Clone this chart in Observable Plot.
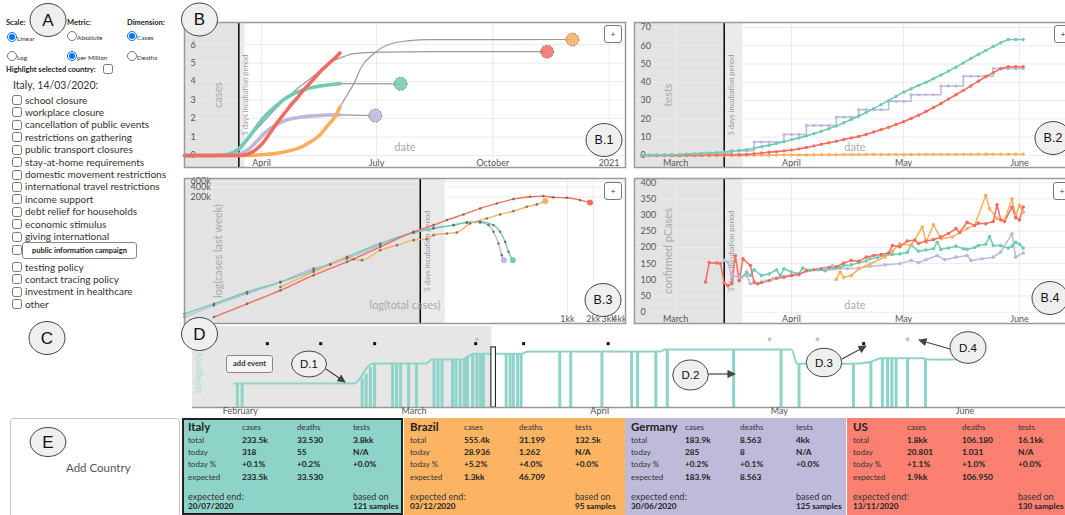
<!DOCTYPE html>
<html>
<head>
<meta charset="utf-8">
<script src="https://cdn.jsdelivr.net/npm/d3@7"></script>
<script src="https://cdn.jsdelivr.net/npm/@observablehq/plot@0.6"></script>
<style>
  html, body { margin:0; padding:0; background:#fff; }
  body { width:1065px; height:515px; overflow:hidden; position:relative; font-family: Lato, "Open Sans", "DejaVu Sans", sans-serif; color:#222; }
  .a { position:absolute; white-space:nowrap; }
  .ctlh { font-size:7.5px; font-weight:700; color:#222; line-height:9px; }
  .ctls { font-size:6.5px; color:#333; line-height:8px; }
  input.r, input.c { position:absolute; margin:0; width:10px; height:10px; }
  .pol { font-size:10px; line-height:12px; color:#333; }
  .plus { position:absolute; width:18px; height:18px; border:1px solid #777; border-radius:3px; background:#fff; font-size:8px; line-height:16px; text-align:center; color:#333; box-sizing:border-box; z-index:5; }
  .card { position:absolute; top:418px; height:97px; box-sizing:border-box; overflow:hidden; }
  .card .a { line-height:10px; }
  .hd { font-size:8px; color:#333; }
  .lb { font-size:8px; color:#333; }
  .vl { font-size:8.3px; font-weight:700; color:#222; }
  .nm { font-size:11.5px; font-weight:700; color:#222; }
  .ft { font-size:9px; color:#333; }
  .ftb { font-size:8.2px; font-weight:700; color:#222; }
  svg.plotsvg { position:absolute; overflow:visible; max-width:none; background:transparent; }
</style>
</head>
<body>
<script>
// ======================= DATA =======================
const countries = ["Italy", "Brazil", "Germany", "US"];
const selectedDate = "2020-03-14";
const incubationDays = 5;
const incubationLabel = "5 days incubation period";

// ---- B.1 : cumulative cases per million (thousands) ----
const b1Domain = ["2020-01-31", "2021-01-14"];
const b1TickDates = ["2020-04-01", "2020-07-01", "2020-10-01", "2021-01-01"];
const b1TickLabels = ["April", "July", "October", "2021"];
const b1YTicks = [0, 1, 2, 3, 4, 5, 6];

const b1ItalyDates = ["2020-01-31","2020-02-20","2020-03-01","2020-03-07","2020-03-14","2020-03-21","2020-03-28","2020-04-04","2020-04-11","2020-04-18","2020-04-25","2020-05-02","2020-05-09","2020-05-16","2020-05-23","2020-05-30","2020-06-02"];
const b1ItalyValues = [0,0,0.03,0.1,0.35,0.9,1.55,2.15,2.6,3.0,3.3,3.5,3.65,3.75,3.82,3.87,3.89];
const b1BrazilDates = ["2020-01-31","2020-03-14","2020-03-28","2020-04-04","2020-04-11","2020-04-18","2020-04-25","2020-05-02","2020-05-09","2020-05-16","2020-05-23","2020-05-30","2020-06-02"];
const b1BrazilValues = [0,0,0.02,0.05,0.1,0.17,0.29,0.44,0.7,1.04,1.6,2.2,2.63];
const b1GermanyDates = ["2020-01-31","2020-03-01","2020-03-07","2020-03-14","2020-03-21","2020-03-28","2020-04-04","2020-04-11","2020-04-18","2020-04-25","2020-05-02","2020-05-09","2020-05-16","2020-05-23","2020-05-30","2020-06-02"];
const b1GermanyValues = [0,0,0.01,0.06,0.3,0.75,1.25,1.6,1.85,2.0,2.08,2.13,2.16,2.19,2.2,2.2];
const b1UsDates = ["2020-01-31","2020-03-10","2020-03-14","2020-03-18","2020-03-21","2020-03-25","2020-03-28","2020-04-01","2020-04-05","2020-04-09","2020-04-13","2020-04-17","2020-04-21","2020-04-25","2020-04-29","2020-05-03","2020-05-07","2020-05-11","2020-05-15","2020-05-19","2020-05-23","2020-05-27","2020-05-31","2020-06-02"];
const b1UsValues = [0,0,0.01,0.03,0.07,0.2,0.35,0.6,0.95,1.35,1.75,2.1,2.45,2.8,3.1,3.45,3.75,4.05,4.35,4.65,4.9,5.15,5.4,5.55];

// projections (gray)
const projItalyDates = ["2020-06-02","2020-07-20"];
const projItalyValues = [3.89,3.88];
const projBrazilDates = ["2020-06-02","2020-06-07","2020-06-13","2020-06-19","2020-06-29","2020-07-09","2020-07-25","2020-08-13","2020-12-03"];
const projBrazilValues = [2.63,3.2,3.89,4.79,5.52,5.97,6.2,6.27,6.28];
const projGermanyDates = ["2020-06-02","2020-06-30"];
const projGermanyValues = [2.2,2.16];
const projUsDates = ["2020-03-01","2020-03-08","2020-03-14","2020-04-01","2020-04-16","2020-04-29","2020-05-13","2020-05-26","2020-06-03","2020-06-13","2020-07-05","2020-08-15","2020-11-13"];
const projUsValues = [0.05,0.15,0.45,1.72,2.8,3.6,4.34,5.06,5.3,5.52,5.6,5.62,5.62];
const endDates = ["2020-07-20","2020-12-03","2020-06-30","2020-11-13"];
const endValues = [3.88,6.28,2.16,5.62];

// ---- B.2 : tests per thousand, every 2 days from b2Start ----
const b2Domain = ["2020-02-19", "2020-06-16"];
const b2Start = "2020-02-21";
const b2StepDays = 2;
const b2Italy = [0.1,0.1,0.2,0.3,0.4,0.5,0.7,0.9,1.1,1.3,1.6,1.9,2.3,2.7,3.2,3.9,4.8,5.6,6.5,7.5,8.6,9.6,10.7,11.9,13.2,14.6,16.1,17.9,19.7,21.6,23.5,25.6,27.8,30.0,32.3,34.6,36.5,38.3,40.0,41.9,44.0,46.1,48.2,50.6,53.0,55.2,57.4,59.6,61.6,63.4,63.4,63.4];
const b2Brazil = [0,0,0,0,0,0,0,0,0,0,0,0,0,0,0.05,0.1,0.1,0.15,0.2,0.2,0.25,0.3,0.3,0.35,0.35,0.4,0.4,0.45,0.45,0.45,0.5,0.5,0.5,0.5,0.55,0.55,0.55,0.55,0.58,0.58,0.58,0.6,0.6,0.6,0.6,0.62,0.62,0.62,0.63,0.63,0.63,0.63];
const b2Germany = [0,0,0,0,0,0,0,0,1.2,1.2,1.2,1.2,2.6,2.6,2.6,7.3,7.3,7.3,7.3,11.5,11.5,11.5,16.4,16.4,16.4,16.4,21,21,21,25,25,25,25,29.6,29.6,29.6,33.2,33.2,33.2,33.2,38,38,38,43.3,43.3,43.3,43.3,47.5,47.5,47.5,47.5,47.5];
const b2US = [0,0,0,0,0,0,0.05,0.05,0.1,0.1,0.15,0.2,0.3,0.4,0.6,0.9,1.3,1.7,2.1,2.5,3.0,3.6,4.3,5.2,6.1,6.9,7.8,8.7,9.6,10.4,11.5,12.8,14.1,15.4,16.9,18.4,20.2,22.0,24.0,26.2,28.4,30.8,33.2,35.6,38.0,40.6,43.0,45.3,47.4,48.5,48.5,48.5];
const b2YTicks = [0,10,20,30,40,50,60,70];
const monthTickDates = ["2020-03-01","2020-04-01","2020-05-01","2020-06-01"];
const monthTickLabels = ["March","April","May","June"];

// ---- B.3 : log(total cases) vs log(cases last week) ----
const b3XDomain = [37, 4.7e6];
const b3YDomain = [30, 7.3e5];
const b3SelectedTotal = 19800;
const b3IncubationTotal = 38500;
const b3XTicks = [1e6, 2e6, 3e6, 4e6];
const b3XLabels = ["1kk", "2kk", "3kk", "4kk"];
const b3YTicks = [2e5, 4e5, 6e5];
const b3YLabels = ["200k", "400k", "600k"];
const b3ItalyTotal = [37,81,196,477,1157,2811,6826,16577,28200,48100,68600,97800,139400,166500,190200,207800,233500];
const b3ItalyWeek = [59,118,269,537,1220,3120,7900,17000,22500,28400,34200,35800,28400,17800,8860,4420,2470];
const b3GermanyTotal = [37,81,196,477,1157,1804,2811,6826,16577,28200,48100,68600,97800,122000,139400,159300,174000,183900];
const b3GermanyWeek = [47,106,239,537,1380,1820,2780,7000,17000,23500,28400,34200,34200,28400,17800,7900,3500,2470];
const b3BrazilTotal = [477,1157,1804,2811,3356,4189,6826,10634,16577,23600,28200,40300,52500,74900,116800,166500,237400,338600,442000,555400];
const b3BrazilWeek = [382,1090,1820,2910,2640,2470,4960,7000,9960,10700,14100,15900,17000,31900,45200,59700,75400,101900,120000,151000];
const b3UsTotal = [81,196,477,1157,2811,6826,16577,28200,40300,62700,97800,152400,237400,370000,527600,688500,982000,1400000,1827000];
const b3UsWeek = [47,118,302,868,2200,6240,17800,28400,40200,59700,90700,128600,174000,204600,214000,195400,191000,162000,138000];

// ---- B.4 : confirmed pCases ----
const b4YTicks = [0,50,100,150,200,250,300,350,400];
const b4ItalyDates = ["2020-03-18","2020-03-20","2020-03-21","2020-03-22","2020-03-24","2020-03-26","2020-03-28","2020-03-29","2020-03-30","2020-04-01","2020-04-03","2020-04-04","2020-04-06","2020-04-08","2020-04-10","2020-04-12","2020-04-14","2020-04-15","2020-04-17","2020-04-19","2020-04-21","2020-04-22","2020-04-24","2020-04-26","2020-04-28","2020-04-30","2020-05-02","2020-05-03","2020-05-05","2020-05-07","2020-05-09","2020-05-10","2020-05-11","2020-05-13","2020-05-15","2020-05-17","2020-05-18","2020-05-20","2020-05-21","2020-05-23","2020-05-24","2020-05-25","2020-05-27","2020-05-29","2020-05-30","2020-05-31","2020-06-01","2020-06-02"];
const b4ItalyValues = [98,124,113,131,113,118,131,113,134,124,119,136,129,131,128,134,138,144,146,153,158,165,168,175,178,180,185,208,188,192,196,216,194,198,204,196,194,200,206,210,234,206,206,198,204,216,210,198];
const b4UsDates = ["2020-03-09","2020-03-10","2020-03-12","2020-03-13","2020-03-14","2020-03-15","2020-03-16","2020-03-17","2020-03-18","2020-03-19","2020-03-21","2020-03-22","2020-03-23","2020-03-24","2020-03-26","2020-03-28","2020-03-30","2020-04-01","2020-04-03","2020-04-05","2020-04-07","2020-04-09","2020-04-11","2020-04-13","2020-04-15","2020-04-17","2020-04-19","2020-04-21","2020-04-23","2020-04-25","2020-04-27","2020-04-28","2020-04-30","2020-05-02","2020-05-04","2020-05-05","2020-05-07","2020-05-09","2020-05-11","2020-05-13","2020-05-15","2020-05-16","2020-05-18","2020-05-20","2020-05-21","2020-05-23","2020-05-25","2020-05-26","2020-05-27","2020-05-28","2020-05-30","2020-05-31","2020-06-01","2020-06-02"];
const b4UsValues = [93,153,152,150,90,82,88,175,97,165,144,93,88,92,98,105,108,113,116,128,131,134,138,140,152,160,157,170,175,178,183,206,202,220,222,212,220,224,232,243,258,246,278,268,275,273,280,332,285,280,325,292,285,325];
const b4GermanyDates = ["2020-03-14","2020-03-15","2020-03-16","2020-03-18","2020-03-20","2020-03-21","2020-03-23","2020-03-25","2020-03-27","2020-03-30","2020-04-03","2020-04-06","2020-04-10","2020-04-12","2020-04-13","2020-04-16","2020-04-19","2020-04-22","2020-04-26","2020-04-30","2020-05-03","2020-05-05","2020-05-07","2020-05-10","2020-05-12","2020-05-15","2020-05-18","2020-05-19","2020-05-22","2020-05-25","2020-05-27","2020-05-30","2020-05-31","2020-06-02"];
const b4GermanyValues = [160,155,113,108,113,88,88,95,103,111,119,129,136,144,134,135,136,142,146,150,160,153,162,175,162,170,175,160,165,170,186,242,170,183];
const b4BrazilDates = ["2020-04-13","2020-04-14","2020-04-15","2020-04-17","2020-04-19","2020-04-22","2020-04-26","2020-04-28","2020-04-30","2020-05-03","2020-05-06","2020-05-07","2020-05-09","2020-05-11","2020-05-14","2020-05-18","2020-05-20","2020-05-23","2020-05-24","2020-05-26","2020-05-28","2020-05-30","2020-05-31","2020-06-01","2020-06-02"];
const b4BrazilValues = [101,124,108,113,134,149,170,188,211,206,263,216,270,227,232,258,268,361,320,289,284,350,299,330,309];

// ---- D : stringency timeline (Italy) ----
const dDomain = ["2020-01-24 00:00", "2020-06-17 19:00"];
const dTickDates = ["2020-02-01","2020-03-01","2020-04-01","2020-05-01","2020-06-01"];
const dTickLabels = ["February","March","April","May","June"];
const stringencyDates = ["2020-01-31","2020-02-20","2020-02-23","2020-03-03","2020-03-04","2020-03-09","2020-03-11","2020-03-19","2020-03-20","2020-04-11","2020-04-12","2020-05-03","2020-05-04","2020-05-13","2020-05-16","2020-05-18","2020-05-25","2020-05-26","2020-06-02"];
const stringencyValues = [38.7,38.7,71,71,77.4,77.4,86.5,86.5,90.3,90.3,93.5,93.5,70.5,70.5,73,79.5,79.5,77.4,77.4];
const eventTimes = ["2020-01-31 12:00","2020-02-01 07:00","2020-02-21 08:00","2020-02-22 00:00","2020-02-22 17:00","2020-02-23 10:00","2020-02-26 10:00","2020-02-27 02:00","2020-02-27 18:00","2020-02-29 02:00","2020-03-01 10:00","2020-03-04 08:00","2020-03-05 00:00","2020-03-05 16:00","2020-03-07 10:00","2020-03-08 00:00","2020-03-08 17:00","2020-03-09 10:00","2020-03-09 22:00","2020-03-10 19:00","2020-03-11 12:00","2020-03-12 02:00","2020-03-12 14:00","2020-03-16 09:00","2020-03-17 01:00","2020-03-17 14:00","2020-03-18 07:00","2020-03-18 21:00","2020-03-25 08:00","2020-03-27 04:00","2020-04-01 09:00","2020-04-06 08:00","2020-04-07 08:00","2020-04-10 09:00","2020-04-12 07:00","2020-04-23 09:00","2020-05-01 07:00","2020-05-04 07:00","2020-05-13 09:00","2020-05-16 07:00","2020-05-18 05:00","2020-05-19 02:00","2020-05-19 19:00","2020-05-20 12:00","2020-05-22 10:00","2020-05-25 10:00"];
const eventLevels = [38.7,38.7,46,54,65,71,71,71,71,71,71,77.4,77.4,77.4,77.4,77.4,77.4,78,82,86,86.5,86.5,86.5,86.5,86.5,86.5,86.5,86.5,90.3,90.3,90.3,90.3,90.3,90.3,93.5,93.5,93.5,70.5,70.5,73,79.5,79.5,79.5,79.5,79.5,77.4];
const selectedEventTime = "2020-03-14 07:00";
const selectedEventLevel = 97;
const markerTimes = ["2020-02-05 12:00","2020-02-14 10:00","2020-02-23 10:00","2020-03-11 07:00","2020-03-19 07:00","2020-04-02 10:00","2020-05-15 02:00","2020-03-11 12:00","2020-04-29 09:00","2020-05-07 09:00","2020-05-22 10:00"];
const markerKinds = ["policy","policy","policy","policy","policy","policy","policy","note","note","note","note"];

// ---- Controls ----
const policies = ["school closure","workplace closure","cancellation of public events","restrictions on gathering","public transport closures","stay-at-home requirements","domestic movement restrictions","international travel restrictions","income support","debt relief for households","economic stimulus","giving international","public information campaign","testing policy","contact tracing policy","investment in healthcare","other"];
const hoveredPolicy = "public information campaign";

// ---- E : cards ----
const cardColumns = ["cases","deaths","tests"];
const cardRowLabels = ["total","today","today %","expected"];
const cardTotals = [["233.5k","33.530","3.8kk"],["555.4k","31.199","132.5k"],["183.9k","8.563","4kk"],["1.8kk","106.180","16.1kk"]];
const cardToday = [["318","55","N/A"],["28.936","1.262","N/A"],["285","8","N/A"],["20.801","1.031","N/A"]];
const cardTodayPct = [["+0.1%","+0.2%","+0.0%"],["+5.2%","+4.0%","+0.0%"],["+0.2%","+0.1%","+0.0%"],["+1.1%","+1.0%","+0.0%"]];
const cardExpected = [["233.5k","33.530",""],["1.3kk","46.709",""],["183.9k","8.563",""],["1.9kk","106.950",""]];
const cardEndDates = ["20/07/2020","03/12/2020","30/06/2020","13/11/2020"];
const cardSamples = [121, 95, 125, 130];

// ======================= STYLE =======================
const lineColors = ["#6fcbb3", "#fdae5c", "#bcb8dc", "#f26d60"];
const cardColors = ["#8dd3c7", "#fdb462", "#bebada", "#fb8072"];
const FONT = "Lato, 'Open Sans', sans-serif";

// ======================= HELPERS =======================
const parseDay = d3.utcParse("%Y-%m-%d");
const parseTime = d3.utcParse("%Y-%m-%d %H:%M");
const selDate = parseDay(selectedDate);
const incEnd = d3.utcDay.offset(selDate, incubationDays);
const colorScale = {domain: countries, range: lineColors};

function rowsFrom(country, dates, values) {
  return dates.map((d, i) => ({country, date: parseDay(d), value: values[i]}));
}
function gridRows(country, start, step, values) {
  const s = parseDay(start);
  return values.map((v, i) => ({country, date: d3.utcDay.offset(s, i * step), value: v}));
}
function put(el, left, top, z) {
  el.style.position = "absolute";
  el.style.left = left + "px";
  el.style.top = top + "px";
  if (z != null) el.style.zIndex = z;
  document.body.appendChild(el);
  return el;
}
function mountPlot(svg, left, top) {
  svg.classList.add("plotsvg");
  svg.style.overflow = "visible";
  svg.style.maxWidth = "none";
  svg.style.background = "transparent";
  return put(svg, left, top, 1);
}
function div(cls, text, left, top, extra) {
  const e = document.createElement("div");
  e.className = "a " + (cls || "");
  e.textContent = text;
  if (extra) Object.assign(e.style, extra);
  return put(e, left, top);
}
const plotStyle = {background: "transparent", color: "#555", fontSize: "9px", fontFamily: FONT, overflow: "visible"};
const W = 441, H = 145;

function labelMap(ticks, labels) {
  const m = new Map();
  ticks.forEach((t, i) => m.set(+t, labels[i]));
  return m;
}
function titleMarks(yTitle, xTitle, xDy) {
  return [
    Plot.text([yTitle], {text: d => d, frameAnchor: "left", dx: 34, rotate: -90, textAnchor: "middle", fontSize: 11, fill: "#aaa"}),
    Plot.text([xTitle], {text: d => d, frameAnchor: "bottom", dy: xDy, textAnchor: "middle", fontSize: 11, fill: "#aaa"})
  ];
}
function shading(x0, xSel, xEnd) {
  return [
    Plot.rect([0], {x1: () => x0, x2: () => xSel, fill: "#e3e3e3"}),
    Plot.rect([0], {x1: () => xSel, x2: () => xEnd, fill: "#ebebeb"})
  ];
}
function commonTimeMarks(xTicksParsed, yTicks, labels, yTitle, xDy) {
  const lm = labelMap(xTicksParsed, labels);
  return [
    Plot.gridX(xTicksParsed, {stroke: "#ebebeb", strokeOpacity: 1}),
    Plot.gridY(yTicks, {stroke: "#ebebeb", strokeOpacity: 1}),
    Plot.ruleX([selDate], {stroke: "#111", strokeWidth: 1.6}),
    Plot.text([incubationLabel], {text: d => d, x: () => selDate, frameAnchor: "middle", rotate: -90, textAnchor: "middle", dx: 7, fontSize: 7.5, fill: "#999"}),
    ...titleMarks(yTitle, "date", xDy),
    Plot.axisX(xTicksParsed, {tickFormat: d => lm.get(+d), tickSize: 0, tickPadding: 0, dy: -8, label: null, fontSize: 9}),
    Plot.axisY(yTicks, {anchor: "left", tickSize: 0, tickPadding: 0, textAnchor: "start", dx: 6, label: null, fontSize: 9})
  ];
}

// ======================= B.1 =======================
{
  const x0 = parseDay(b1Domain[0]);
  const lines = [
    ...rowsFrom("Germany", b1GermanyDates, b1GermanyValues),
    ...rowsFrom("Brazil", b1BrazilDates, b1BrazilValues),
    ...rowsFrom("Italy", b1ItalyDates, b1ItalyValues),
    ...rowsFrom("US", b1UsDates, b1UsValues)
  ];
  const proj = [
    ...rowsFrom("Italy", projItalyDates, projItalyValues),
    ...rowsFrom("Brazil", projBrazilDates, projBrazilValues),
    ...rowsFrom("Germany", projGermanyDates, projGermanyValues),
    ...rowsFrom("US", projUsDates, projUsValues)
  ];
  const ends = countries.map((c, i) => ({country: c, date: parseDay(endDates[i]), value: endValues[i]}));
  const ticks = b1TickDates.map(parseDay);
  const svg = Plot.plot({
    width: W, height: H, margin: 0, style: plotStyle,
    x: {type: "utc", domain: b1Domain.map(parseDay), axis: null},
    y: {domain: [-0.65, 7.2], axis: null},
    color: colorScale,
    marks: [
      ...shading(x0, selDate, incEnd),
      ...commonTimeMarks(ticks, b1YTicks, b1TickLabels, "cases", -17),
      Plot.line(proj, {x: "date", y: "value", z: "country", stroke: "#9a9a9a", strokeWidth: 1.2, curve: "monotone-x"}),
      Plot.line(lines, {x: "date", y: "value", z: "country", stroke: "country", strokeWidth: 3.6, curve: "monotone-x"}),
      Plot.dot(ends, {x: "date", y: "value", r: 6.5, fill: "country", fillOpacity: 0.85, stroke: "#666", strokeWidth: 0.8, strokeDasharray: "2,1.5"}),
      Plot.frame({stroke: "#9a9a9a", strokeWidth: 1.5})
    ]
  });
  mountPlot(svg, 184, 22);
}

// ======================= B.2 =======================
{
  const x0 = parseDay(b2Domain[0]);
  const rows = [
    ...gridRows("Brazil", b2Start, b2StepDays, b2Brazil),
    ...gridRows("US", b2Start, b2StepDays, b2US),
    ...gridRows("Italy", b2Start, b2StepDays, b2Italy)
  ];
  const ger = gridRows("Germany", b2Start, b2StepDays, b2Germany);
  const ticks = monthTickDates.map(parseDay);
  const svg = Plot.plot({
    width: W, height: H, margin: 0, style: plotStyle,
    x: {type: "utc", domain: b2Domain.map(parseDay), axis: null},
    y: {domain: [-6.6, 72.7], axis: null},
    color: colorScale,
    marks: [
      ...shading(x0, selDate, incEnd),
      ...commonTimeMarks(ticks, b2YTicks, monthTickLabels, "tests", -17),
      Plot.line(ger, {x: "date", y: "value", stroke: "country", strokeWidth: 1.5, curve: "step-after"}),
      Plot.dot(ger, {x: "date", y: "value", fill: "country", r: 1.6}),
      Plot.line(rows, {x: "date", y: "value", z: "country", stroke: "country", strokeWidth: 1.6}),
      Plot.dot(rows, {x: "date", y: "value", fill: "country", r: 1.7}),
      Plot.frame({stroke: "#9a9a9a", strokeWidth: 1.5})
    ]
  });
  mountPlot(svg, 634, 22);
}

// ======================= B.3 =======================
{
  const mk = (c, xs, ys) => xs.map((x, i) => ({country: c, total: x, week: ys[i]}));
  const rows = [
    ...mk("Germany", b3GermanyTotal, b3GermanyWeek),
    ...mk("Italy", b3ItalyTotal, b3ItalyWeek),
    ...mk("Brazil", b3BrazilTotal, b3BrazilWeek),
    ...mk("US", b3UsTotal, b3UsWeek)
  ];
  const lasts = countries.map(c => rows.filter(r => r.country === c).slice(-1)[0]);
  const xm = labelMap(b3XTicks, b3XLabels);
  const ym = labelMap(b3YTicks, b3YLabels);
  const svg = Plot.plot({
    width: W, height: H, margin: 0, style: plotStyle,
    x: {type: "log", domain: b3XDomain, axis: null},
    y: {type: "log", domain: b3YDomain, axis: null},
    color: colorScale,
    marks: [
      ...shading(b3XDomain[0], b3SelectedTotal, b3IncubationTotal),
      Plot.gridX(b3XTicks.slice(0, 2), {stroke: "#ebebeb", strokeOpacity: 1}),
      Plot.gridY(b3YTicks, {stroke: "#ebebeb", strokeOpacity: 1}),
      Plot.ruleX([b3SelectedTotal], {stroke: "#111", strokeWidth: 1.6}),
      Plot.text([incubationLabel], {text: d => d, x: () => b3SelectedTotal, frameAnchor: "middle", rotate: -90, textAnchor: "middle", dx: 7, fontSize: 7.5, fill: "#999"}),
      ...titleMarks("log(cases last week)", "log(total cases)", -15),
      // tick labels placed through the log scales
      Plot.text(b3XTicks, {x: d => d, text: d => xm.get(d), frameAnchor: "bottom", lineAnchor: "top", textAnchor: "middle", dy: -8, fontSize: 9, fill: "#555"}),
      Plot.text(b3YTicks, {y: d => d, text: d => ym.get(d), frameAnchor: "left", textAnchor: "start", dx: 6, fontSize: 9, fill: "#555"}),
      Plot.line(rows, {x: "total", y: "week", z: "country", stroke: "country", strokeWidth: 1.4, curve: "monotone-x"}),
      Plot.dot(rows, {x: "total", y: "week", fill: "#666", fillOpacity: 0.85, r: 1.3}),
      Plot.dot(lasts, {x: "total", y: "week", fill: "country", r: 3}),
      Plot.frame({stroke: "#9a9a9a", strokeWidth: 1.5})
    ]
  });
  mountPlot(svg, 184, 178);
}

// ======================= B.4 =======================
{
  const x0 = parseDay(b2Domain[0]);
  const rows = [
    ...rowsFrom("Germany", b4GermanyDates, b4GermanyValues),
    ...rowsFrom("Italy", b4ItalyDates, b4ItalyValues),
    ...rowsFrom("Brazil", b4BrazilDates, b4BrazilValues),
    ...rowsFrom("US", b4UsDates, b4UsValues)
  ];
  const ticks = monthTickDates.map(parseDay);
  const svg = Plot.plot({
    width: W, height: H, margin: 0, style: plotStyle,
    x: {type: "utc", domain: b2Domain.map(parseDay), axis: null},
    y: {domain: [-35, 413], axis: null},
    color: colorScale,
    marks: [
      ...shading(x0, selDate, incEnd),
      ...commonTimeMarks(ticks, b4YTicks, monthTickLabels, "confirmed pCases", -15),
      Plot.line(rows, {x: "date", y: "value", z: "country", stroke: "country", strokeWidth: 1.5}),
      Plot.dot(rows, {x: "date", y: "value", fill: "country", r: 1.8}),
      Plot.frame({stroke: "#9a9a9a", strokeWidth: 1.5})
    ]
  });
  mountPlot(svg, 634, 178);
}

// ======================= D timeline =======================
{
  const domain = dDomain.map(parseTime);
  const strRows = stringencyDates.map((d, i) => ({date: parseDay(d), level: stringencyValues[i]}));
  const evRows = eventTimes.map((t, i) => ({date: parseTime(t), level: eventLevels[i]}));
  const selRow = [{date: parseTime(selectedEventTime), level: selectedEventLevel}];
  const mRows = markerTimes.map((t, i) => ({date: parseTime(t), kind: markerKinds[i]}));
  const ticks = dTickDates.map(parseDay);
  const lm = labelMap(ticks, dTickLabels);
  const svg = Plot.plot({
    width: 873, height: 90, marginTop: 0, marginBottom: 9, marginLeft: 0, marginRight: 0,
    style: plotStyle,
    x: {type: "utc", domain, axis: null},
    y: {domain: [0, 100], range: [81, 19], axis: null},
    marks: [
      Plot.rect([0], {x1: () => domain[0], x2: () => selDate, fill: "#e6e6e6"}),
      Plot.ruleX(evRows, {x: "date", y1: 0, y2: "level", stroke: "#8dd3c7", strokeWidth: 3}),
      Plot.line(strRows, {x: "date", y: "level", stroke: "#8dd3c7", strokeWidth: 2, curve: "monotone-x"}),
      Plot.rect(selRow, {x1: d => d3.utcHour.offset(d.date, -9), x2: d => d3.utcHour.offset(d.date, 9), y1: 0, y2: "level", fill: "white", stroke: "#111", strokeWidth: 1}),
      Plot.dot(mRows.filter(d => d.kind === "policy"), {x: "date", y: () => 103, symbol: "square", r: 1.7, fill: "#111"}),
      Plot.dot(mRows.filter(d => d.kind === "note"), {x: "date", y: () => 110, symbol: "square", r: 2, fill: "#c4c4c4"}),
      Plot.ruleY([0], {stroke: "#999", strokeWidth: 1.5}),
      Plot.text(["stringency"], {text: d => d, frameAnchor: "left", rotate: -90, textAnchor: "middle", dx: 6, dy: 6, fontSize: 9, fill: "#a6ddd2"}),
      Plot.axisX(ticks, {tickFormat: d => lm.get(+d), tickSize: 0, tickPadding: 0, label: null, fontSize: 9})
    ]
  });
  mountPlot(svg, 192, 326);
}

// ======================= Controls (A / C) =======================
{
  div("ctlh", "Scale:", 6, 18);
  div("ctlh", "Metric:", 67, 18);
  div("ctlh", "Dimension:", 127, 18);
  const radios = [
    ["scale", "Linear", 7, 32, true], ["metric", "Absolute", 67, 31, false], ["dim", "Cases", 127, 31, true],
    ["scale", "Log", 7, 51, false], ["metric", "per Million", 67, 51, true], ["dim", "Deaths", 127, 51, false]
  ];
  radios.forEach(([name, label, x, y, checked]) => {
    const r = document.createElement("input");
    r.type = "radio"; r.name = name; r.className = "r"; r.checked = checked;
    put(r, x, y);
    div("ctls", label, x + 10, y + 3);
  });
  div("ctlh", "Highlight selected country:", 6, 65);
  const hc = document.createElement("input"); hc.type = "checkbox"; hc.className = "c"; put(hc, 103, 64);
  div("", "Italy, 14/03/2020:", 13, 79, {fontSize: "10.5px", color: "#333", lineHeight: "12px"});
  policies.forEach((p, i) => {
    const cy = i < 12 ? 100 + i * 12.42 : (i === 12 ? 250 : 267 + (i - 13) * 12.4);
    const cb = document.createElement("input"); cb.type = "checkbox"; cb.className = "c";
    put(cb, 12, cy - 5);
    if (p !== hoveredPolicy) div("pol", p, 25, cy - 6.5);
  });
  div("", hoveredPolicy, 22, 242, {width: "115px", height: "17px", boxSizing: "border-box", border: "1px solid #888", borderRadius: "3px", background: "#fff", fontSize: "7.5px", fontWeight: "700", textAlign: "center", lineHeight: "15px", color: "#222", zIndex: 6});
}

// ======================= Cards (E) =======================
{
  const add = document.createElement("div");
  add.className = "card";
  Object.assign(add.style, {left: "10px", width: "170px", height: "100px", border: "1px solid #c4c4c4", borderRadius: "4px", background: "#fff"});
  document.body.appendChild(add);
  div("", "Add Country", 66, 461, {fontSize: "11.5px", color: "#555", lineHeight: "14px"});

  const lefts = [182, 404, 625, 847];
  countries.forEach((c, k) => {
    const L = lefts[k];
    const card = document.createElement("div");
    card.className = "card";
    Object.assign(card.style, {left: L + "px", width: "221px", background: cardColors[k], border: k === 0 ? "2px solid #222" : "none"});
    document.body.appendChild(card);
    const colX = [L + 60, L + 115, L + 171];
    div("nm", c, L + 6, 420, {lineHeight: "13px"});
    cardColumns.forEach((h, j) => div("hd", h, colX[j], 422));
    const rowsVals = [cardTotals[k], cardToday[k], cardTodayPct[k], cardExpected[k]];
    const rowY = [434.5, 446.5, 459, 472];
    cardRowLabels.forEach((lab, r) => {
      div("lb", lab, L + 6, rowY[r]);
      rowsVals[r].forEach((v, j) => { if (v) div("vl", v, colX[j], rowY[r]); });
    });
    div("ft", "expected end:", L + 6, 491);
    div("ftb", cardEndDates[k], L + 6, 500.5);
    div("ft", "based on", L + 171, 491);
    div("ftb", cardSamples[k] + " samples", L + 171, 500.5);
  });
}

// ======================= Buttons =======================
{
  [[604, 25], [1054, 25], [604, 182], [1053, 182]].forEach(([x, y]) => {
    const b = document.createElement("div"); b.className = "plus"; b.textContent = "+"; put(b, x, y);
  });
  div("", "add event", 226, 355, {width: "47px", height: "18px", boxSizing: "border-box", border: "1px solid #888", borderRadius: "3px", background: "#f4f4f4", fontSize: "7.5px", fontWeight: "700", textAlign: "center", lineHeight: "16px", color: "#333", zIndex: 4});
}

// ======================= Annotation overlay =======================
{
  const ns = "http://www.w3.org/2000/svg";
  const s = document.createElementNS(ns, "svg");
  s.setAttribute("width", 1065); s.setAttribute("height", 515);
  s.style.position = "absolute"; s.style.left = "0px"; s.style.top = "0px"; s.style.zIndex = 10; s.style.pointerEvents = "none";
  const callouts = [
    ["A", 48, 20, 18, 16.5, 17], ["B", 199.5, 19.5, 18, 16.5, 17], ["C", 47, 338, 18, 16.5, 17],
    ["D", 199.5, 334, 18, 16.5, 17], ["E", 48, 442, 18, 14.5, 17],
    ["B.1", 604, 140, 18, 16.5, 12.5], ["B.2", 1053, 138, 18, 16.5, 12.5],
    ["B.3", 603, 300, 18, 16.5, 12.5], ["B.4", 1050, 298, 18, 16.5, 12.5],
    ["D.1", 309, 364, 17.5, 13, 11.5], ["D.2", 690.5, 375, 17.8, 15, 11.5],
    ["D.3", 824, 362.5, 17.8, 14.2, 11.5], ["D.4", 968, 347.5, 18, 15.8, 11.5]
  ];
  const arrows = [[326, 369, 345, 382], [708, 374, 735, 374], [842, 359, 866, 346], [950, 349, 919, 340]];
  let html = '<defs><marker id="ah" viewBox="0 0 10 10" refX="9" refY="5" markerWidth="7" markerHeight="7" orient="auto"><path d="M0,0 L10,5 L0,10 z" fill="#444"/></marker></defs>';
  arrows.forEach(([x1, y1, x2, y2]) => {
    html += `<line x1="${x1}" y1="${y1}" x2="${x2}" y2="${y2}" stroke="#444" stroke-width="1.2" marker-end="url(#ah)"/>`;
  });
  callouts.forEach(([t, cx, cy, rx, ry, fs]) => {
    html += `<ellipse cx="${cx}" cy="${cy}" rx="${rx}" ry="${ry}" fill="#efefef" stroke="#444" stroke-width="1"/>`;
    html += `<text x="${cx}" y="${cy}" text-anchor="middle" dominant-baseline="central" font-family="'Liberation Sans', Arial, sans-serif" font-size="${fs}" fill="#111">${t}</text>`;
  });
  s.innerHTML = html;
  document.body.appendChild(s);
}
</script>
</body>
</html>
